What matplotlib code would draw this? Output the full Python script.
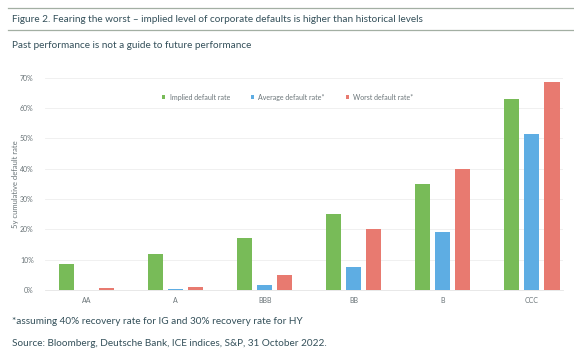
import numpy as np
from matplotlib import pyplot as plt

plt.rcParams['font.family'] = ['Lato', 'DejaVu Sans']

## Data
ratings = ['AA', 'A', 'BBB', 'BB', 'B', 'CCC']
implied = [8.5, 12.0, 17.0, 25.0, 35.0, 63.0]
average = [0.1, 0.3, 1.5, 7.5, 19.0, 51.5]
worst = [0.5, 1.0, 5.0, 20.0, 40.0, 68.5]
series_names = ['Implied default rate', 'Average default rate*', 'Worst default rate*']

green = '#78bb58'
blue = '#5eade3'
red = '#e87a70'
text_col = '#34505a'

fig = plt.figure(figsize=(5.74, 3.57), dpi=100)
ax = fig.add_axes([0.078, 0.188, 0.903, 0.594])

x = np.arange(len(ratings))
w = 0.17
off = 0.225
ax.bar(x - off, implied, w, color=green, label=series_names[0])
ax.bar(x, average, w, color=blue, label=series_names[1])
ax.bar(x + off, worst, w, color=red, label=series_names[2])

ax.set_xlim(-0.47, 5.35)
ax.set_ylim(0, 70)
ax.set_yticks(np.arange(0, 71, 10))
ax.set_yticklabels(['%d%%' % v for v in range(0, 71, 10)])
ax.set_xticks(x)
ax.set_xticklabels(ratings)
ax.tick_params(axis='both', length=0, labelsize=5, labelcolor='#6a7478')
ax.tick_params(axis='y', pad=8)
ax.tick_params(axis='x', pad=5)
ax.grid(axis='y', color='#eeeeee', linewidth=0.6)
ax.set_axisbelow(True)
for s in ['top', 'right', 'left']:
    ax.spines[s].set_visible(False)
ax.spines['bottom'].set_color('#e4e4e4')
ax.spines['bottom'].set_linewidth(0.6)
ax.set_ylabel('5y cumulative default rate', fontsize=5.5, color='#6a7478', labelpad=1)

leg = ax.legend(loc='upper left', bbox_to_anchor=(0.214, 0.955), ncol=3, frameon=False,
                fontsize=5, handlelength=0.5, handleheight=0.5, columnspacing=3.0,
                handletextpad=0.6)
for t in leg.get_texts():
    t.set_color('#6a7478')

# header lines and titles
fig.add_artist(plt.Line2D([8 / 574, 1], [1 - 8 / 357] * 2, color='#a3afa3', lw=0.9))
fig.add_artist(plt.Line2D([8 / 574, 1], [1 - 30 / 357] * 2, color='#a3afa3', lw=0.9))
fig.text(12 / 574, 1 - 19 / 357, 'Figure 2. Fearing the worst \u2013 implied level of corporate defaults is higher than historical levels',
         fontsize=7.2, color=text_col, va='center')
fig.text(12 / 574, 1 - 45 / 357, 'Past performance is not a guide to future performance',
         fontsize=7.2, color=text_col, va='center')
fig.text(12 / 574, 1 - 322 / 357, '*assuming 40% recovery rate for IG and 30% recovery rate for HY',
         fontsize=7.2, color=text_col, va='center')
fig.text(12 / 574, 1 - 343 / 357, 'Source: Bloomberg, Deutsche Bank, ICE indices, S&P, 31 October 2022.',
         fontsize=7.2, color=text_col, va='center')

plt.savefig('out.png', dpi=100)
